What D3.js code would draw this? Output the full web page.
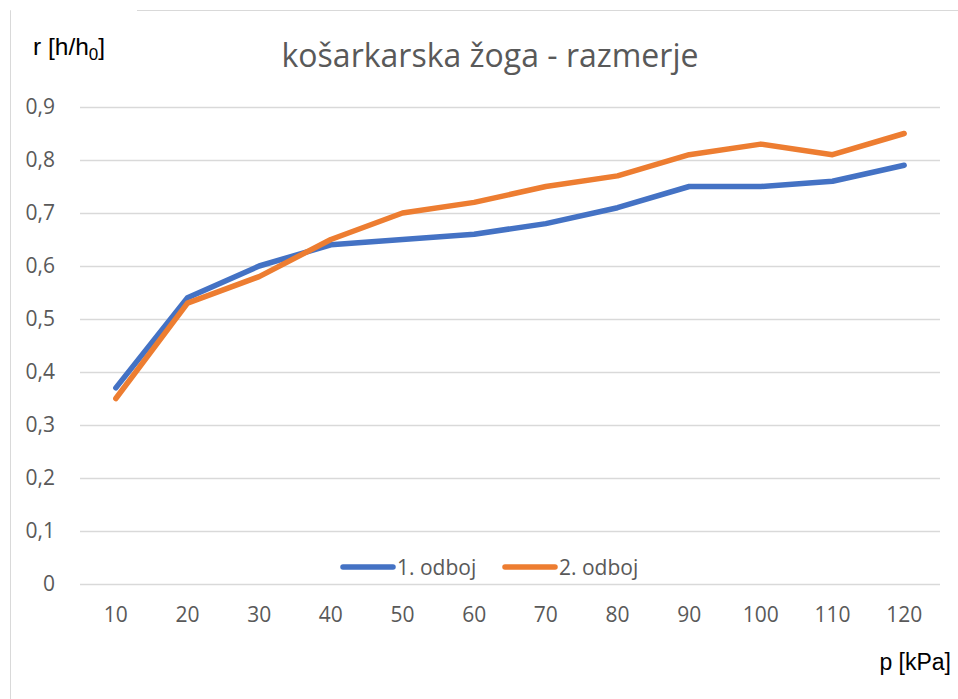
<!DOCTYPE html>
<html>
<head>
<meta charset="utf-8">
<script src="https://cdn.jsdelivr.net/npm/d3@7"></script>
<style>
  body { margin: 0; background: #fff; }
  svg { font-family: "Open Sans", sans-serif; }
</style>
</head>
<body>
<div id="chart"></div>
<script>
var width = 958, height = 699;

var categories = [10, 20, 30, 40, 50, 60, 70, 80, 90, 100, 110, 120];
var odboj1 = [0.37, 0.54, 0.60, 0.64, 0.65, 0.66, 0.68, 0.71, 0.75, 0.75, 0.76, 0.79];
var odboj2 = [0.35, 0.53, 0.58, 0.65, 0.70, 0.72, 0.75, 0.77, 0.81, 0.83, 0.81, 0.85];
var yTicks = [0, 0.1, 0.2, 0.3, 0.4, 0.5, 0.6, 0.7, 0.8, 0.9];
var seriesNames = ["1. odboj", "2. odboj"];
var colors = ["#4472C4", "#ED7D31"];

var svg = d3.select("#chart").append("svg")
    .attr("width", width).attr("height", height);

// chart frame (top-left part hidden behind axis title)
svg.append("path")
    .attr("d", "M10.5,699 L10.5,10.5 L958,10.5")
    .attr("fill", "none")
    .attr("stroke", "#d9d9d9")
    .attr("stroke-width", 1);
svg.append("rect")
    .attr("x", 11).attr("y", 0).attr("width", 126).attr("height", 70)
    .attr("fill", "#fff");

var x = d3.scaleBand().domain(categories).range([80, 940]);
var y = d3.scaleLinear().domain([0, 0.9]).range([584, 107]);

// gridlines
svg.append("g")
    .attr("transform", "translate(80,0)")
    .call(d3.axisLeft(y).tickValues(yTicks).tickSize(-860).tickFormat(""))
    .call(function (g) { g.select(".domain").remove(); })
    .selectAll("line")
    .attr("stroke", "#d9d9d9")
    .attr("stroke-width", 1.3);

// y tick labels
svg.append("g")
    .attr("transform", "translate(58,0)")
    .call(d3.axisLeft(y).tickValues(yTicks).tickSize(0)
        .tickFormat(function (d) { return d3.format(".1f")(d).replace(".", ",").replace(/^0,0$/, "0"); }))
    .call(function (g) { g.select(".domain").remove(); })
    .selectAll("text")
    .attr("fill", "#595959")
    .attr("font-size", 21)
    .attr("font-family", "Open Sans, sans-serif");

// x tick labels
svg.append("g")
    .attr("transform", "translate(0,584)")
    .call(d3.axisBottom(x).tickSize(0).tickPadding(23))
    .call(function (g) { g.select(".domain").remove(); })
    .selectAll("text")
    .attr("fill", "#595959")
    .attr("font-size", 21)
    .attr("font-family", "Open Sans, sans-serif");

var line = d3.line()
    .x(function (d, i) { return x(categories[i]) + x.bandwidth() / 2; })
    .y(function (d) { return y(d); });

[odboj1, odboj2].forEach(function (s, i) {
    svg.append("path")
        .datum(s)
        .attr("d", line)
        .attr("fill", "none")
        .attr("stroke", colors[i])
        .attr("stroke-width", 5.5)
        .attr("stroke-linecap", "round")
        .attr("stroke-linejoin", "round");
});

// title
svg.append("text")
    .attr("x", 490).attr("y", 67)
    .attr("text-anchor", "middle")
    .attr("fill", "#595959")
    .attr("font-size", 32)
    .text("košarkarska žoga - razmerje");

// axis titles
var yt = svg.append("text")
    .attr("x", 33).attr("y", 55)
    .attr("fill", "#000")
    .attr("font-family", "Liberation Sans, Arial, sans-serif")
    .attr("font-size", 24.5);
yt.append("tspan").text("r [h/h");
yt.append("tspan").attr("font-size", 17).attr("dy", 5).text("0");
yt.append("tspan").attr("dy", -5).text("]");

svg.append("text")
    .attr("x", 951).attr("y", 670)
    .attr("text-anchor", "end")
    .attr("fill", "#000")
    .attr("font-family", "Liberation Sans, Arial, sans-serif")
    .attr("font-size", 23)
    .text("p [kPa]");

// legend
var legendX = [341, 503];
seriesNames.forEach(function (name, i) {
    var g = svg.append("g").attr("transform", "translate(" + legendX[i] + ",567)");
    g.append("line")
        .attr("x1", 2).attr("x2", 52)
        .attr("stroke", colors[i])
        .attr("stroke-width", 5.5)
        .attr("stroke-linecap", "round");
    g.append("text")
        .attr("x", 56).attr("y", 7.5)
        .attr("fill", "#595959")
        .attr("font-size", 21)
        .text(name);
});
</script>
</body>
</html>
